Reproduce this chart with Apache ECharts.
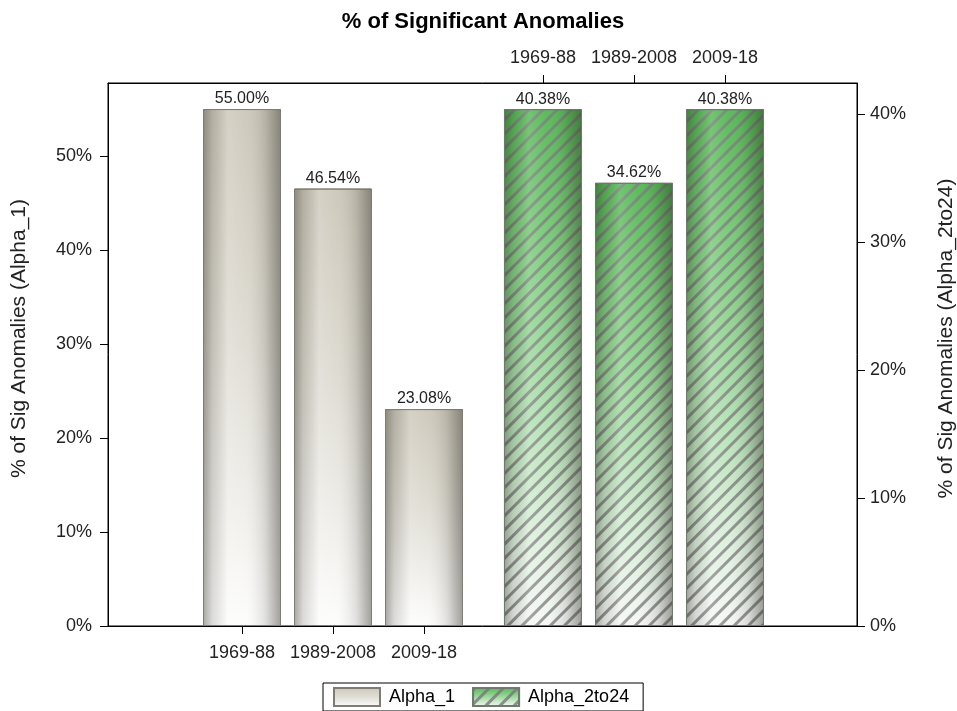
<!DOCTYPE html>
<html>
<head>
<meta charset="utf-8">
<title>% of Significant Anomalies</title>
<script src="https://cdn.jsdelivr.net/npm/echarts@6/dist/echarts.min.js"></script>
<style>
  html, body { margin: 0; padding: 0; background: #fff; }
  #chart { width: 957px; height: 711px; }
</style>
</head>
<body>
<div id="chart"></div>
<script>
// Period categories shared by both groups
const periods = ['1969-88', '1989-2008', '2009-18'];
// Percent of significant anomalies per period
const alpha1 = [55.00, 46.54, 23.08];
const alpha2to24 = [40.38, 34.62, 40.38];
// Upper ends of the two percentage axes
const leftMax = 57.77;
const rightMax = 42.42;

const FONT = "'Liberation Sans', Arial, sans-serif";
const idx = periods.map((_, i) => i);

function pairs(vals) {
  return vals.map((v, i) => [idx[i], v]);
}

const grayFill = {
  type: 'linear', x: 0, y: 0, x2: 0, y2: 1,
  colorStops: [
    { offset: 0, color: '#cbc7b9' },
    { offset: 0.45, color: '#dedbd2' },
    { offset: 0.8, color: '#f1f0ec' },
    { offset: 1, color: '#fdfdfd' }
  ]
};
const greenFill = {
  type: 'linear', x: 0, y: 0, x2: 0, y2: 1,
  colorStops: [
    { offset: 0, color: '#52b752' },
    { offset: 0.45, color: '#96d696' },
    { offset: 0.75, color: '#cdebcd' },
    { offset: 1, color: '#f6f7f6' }
  ]
};
// Side shading giving the bars a rounded, glossy look
const sideShade = {
  type: 'linear', x: 0, y: 0, x2: 1, y2: 0,
  colorStops: [
    { offset: 0, color: 'rgba(50,48,40,0.42)' },
    { offset: 0.12, color: 'rgba(50,48,40,0.16)' },
    { offset: 0.32, color: 'rgba(255,255,255,0.18)' },
    { offset: 0.55, color: 'rgba(255,255,255,0.05)' },
    { offset: 0.8, color: 'rgba(50,48,40,0.14)' },
    { offset: 1, color: 'rgba(50,48,40,0.46)' }
  ]
};
const hatch = {
  symbol: 'rect',
  color: 'rgba(120,120,120,0.8)',
  dashArrayX: [1, 0],
  dashArrayY: [2.4, 6.8],
  rotation: -Math.PI / 4
};

const labelStyle = {
  show: true,
  position: 'top',
  distance: 2,
  color: '#222',
  fontFamily: FONT,
  fontSize: 16,
  formatter: p => p.value[1].toFixed(2) + '%'
};

const axisText = { color: '#222', fontFamily: FONT, fontSize: 18 };
const blackLine = { show: true, onZero: false, lineStyle: { color: '#000', width: 1 } };

function xAxisDef(position, min, max, margin) {
  return {
    type: 'value', position: position,
    min: min, max: max,
    splitLine: { show: false },
    axisLine: blackLine,
    axisTick: { show: true, length: 8, customValues: idx, lineStyle: { color: '#000' } },
    axisLabel: Object.assign({ margin: margin, customValues: idx, formatter: v => periods[Math.round(v)] }, axisText)
  };
}

function yAxisDef(position, max, name, gap, margin) {
  return {
    type: 'value', position: position,
    min: 0, max: max, interval: 10,
    name: name,
    nameLocation: 'middle', nameGap: gap,
    nameTextStyle: { color: '#222', fontFamily: FONT, fontSize: 21, padding: [0, 0, 0, 32] },
    splitLine: { show: false },
    axisLine: blackLine,
    axisTick: { show: true, length: 8, lineStyle: { color: '#000' } },
    axisLabel: Object.assign({ margin: margin, showMaxLabel: false, formatter: v => v + '%' }, axisText)
  };
}

const chart = echarts.init(document.getElementById('chart'), null, { renderer: 'canvas' });
chart.setOption({
  animation: false,
  backgroundColor: '#fff',
  title: {
    text: '% of Significant Anomalies',
    left: 478,
    textAlign: 'center',
    top: 6,
    textStyle: { fontFamily: FONT, fontSize: 22, fontWeight: 'bold', color: '#000' }
  },
  legend: {
    data: ['Alpha_1', 'Alpha_2to24'],
    left: 323,
    top: 683,
    icon: 'rect',
    padding: [4, 14, 4, 10],
    itemWidth: 46,
    itemHeight: 18,
    itemGap: 17,
    borderColor: '#000',
    borderWidth: 1,
    borderRadius: 0,
    textStyle: { color: '#000', fontFamily: FONT, fontSize: 18, padding: [0, 0, 0, 4] }
  },
  grid: {
    left: 108, right: 100, top: 83, bottom: 85,
    outerBoundsMode: 'none',
    containLabel: false,
    show: true, borderColor: '#000', borderWidth: 1, backgroundColor: 'transparent'
  },
  xAxis: [
    xAxisDef('bottom', -1.4725, 6.758, 18),
    xAxisDef('top', -4.780, 3.4505, 16)
  ],
  yAxis: [
    yAxisDef('left', leftMax, '% of Sig Anomalies (Alpha_1)', 78, 16),
    yAxisDef('right', rightMax, '% of Sig Anomalies (Alpha_2to24)', 79, 13)
  ],
  series: [
    {
      name: 'Alpha_1', type: 'bar', xAxisIndex: 0, yAxisIndex: 0,
      barWidth: 78, barGap: '-100%',
      data: pairs(alpha1),
      itemStyle: { color: grayFill, borderColor: '#7e7c74', borderWidth: 1 },
      label: labelStyle
    },
    {
      name: 'shade-a', type: 'bar', xAxisIndex: 0, yAxisIndex: 0,
      barWidth: 78, barGap: '-100%', silent: true,
      data: pairs(alpha1),
      itemStyle: { color: sideShade, borderColor: '#7e7c74', borderWidth: 1 }
    },
    {
      name: 'Alpha_2to24', type: 'bar', xAxisIndex: 1, yAxisIndex: 1,
      barWidth: 78, barGap: '-100%',
      data: pairs(alpha2to24),
      itemStyle: { color: greenFill, borderColor: '#6e7a6e', borderWidth: 1, decal: hatch },
      label: labelStyle
    },
    {
      name: 'shade-b', type: 'bar', xAxisIndex: 1, yAxisIndex: 1,
      barWidth: 78, barGap: '-100%', silent: true,
      data: pairs(alpha2to24),
      itemStyle: { color: sideShade, borderColor: '#6e7a6e', borderWidth: 1 }
    }
  ]
});
</script>
</body>
</html>
